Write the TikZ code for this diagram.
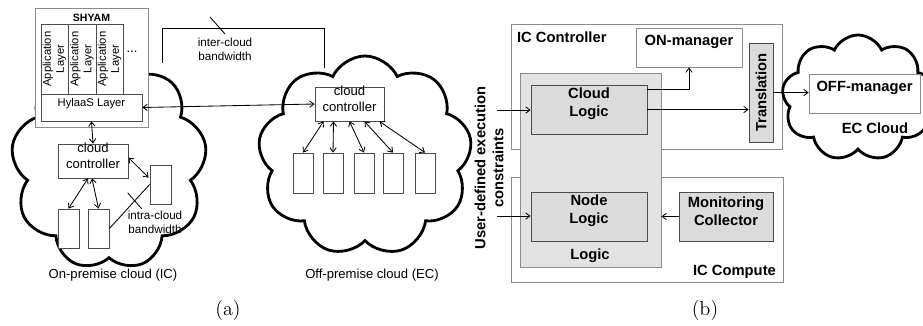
\documentclass[tikz,border=0pt]{standalone}
\usepackage{fontspec}
\newfontfamily\arialfont{Liberation Sans}
\usepackage{tikz}
\usetikzlibrary{positioning,arrows.meta,shapes.symbols,calc,fit}

\definecolor{edgegray}{gray}{0.55}
\definecolor{darkedge}{gray}{0.3}
\definecolor{logicgray}{gray}{0.89}
\definecolor{innergray}{gray}{0.86}

\begin{document}
\begin{tikzpicture}[
			x=0.025cm, y=-0.025cm,
			line width=0.6pt,
			>={Straight Barb[length=3pt,width=4.5pt]},
			font=\arialfont\fontsize{9.3}{11.4}\selectfont,
			cloudbody/.style={cloud, draw, line width=2pt, cloud puffs=#1, cloud puff arc=130, cloud ignores aspect, inner sep=0pt},
			outerbox/.style={draw=edgegray, fill=white, inner sep=0pt, align=center},
			layerbox/.style={draw=darkedge, fill=white, inner sep=0pt, align=center},
			logicbox/.style={draw=edgegray, fill=logicgray, inner sep=0pt},
			greybox/.style={draw=darkedge, fill=innergray, inner sep=0pt, align=center, btext},
			btext/.style={font=\arialfont\bfseries\fontsize{10.5}{12.8}\selectfont},
			smalltext/.style={font=\arialfont\fontsize{8.3}{9.8}\selectfont, align=center},
			subcap/.style={font=\rmfamily\fontsize{14.4}{16}\selectfont}
		]
		\useasboundingbox (0,0) rectangle (923,325);

		% Clouds
		\node[cloudbody=9, minimum width=4.9cm, minimum height=5.3cm] (iccloud) at (109,164) {};
		\node[cloudbody=9, minimum width=5.35cm, minimum height=5cm] (eccloud) at (365,156) {};

		% SHYAM stack
		\node[outerbox, fit={(35,8) (148,127)}] (shyam) {};
		\node[font=\arialfont\bfseries\fontsize{7.5}{9}\selectfont] (shyamname) at (91.5,18) {SHYAM};
		\foreach \i/\xa/\xb in {1/41/68,2/68/96,3/96/123}
			\node[layerbox, fit={(\xa,24) (\xb,94)},
				label={[rotate=90, align=center, font=\arialfont\fontsize{8}{9.2}\selectfont]center:Application\\Layer}] (app\i) {};
		\node (appdots) at (132,52) {...};
		\node[layerbox, fit={(41,94) (142,121)}, font=\arialfont\fontsize{8}{9}\selectfont] (hylaas) {HylaaS Layer};

		% On-premise cloud
		\node[layerbox, fit={(58,144) (128,178)}] (iccc) {cloud\\controller};
		\node[layerbox, fit={(58,209) (79,248)}] (icvm1) {};
		\node[layerbox, fit={(88,209) (109,248)}] (icvm2) {};
		\node[layerbox, fit={(150,165) (171,204)}] (icvm3) {};
		\node[smalltext] (intralbl) at (155,222) {intra-cloud\\bandwidth};
		\node (iclbl) at (113,275) {On-premise cloud (IC)};

		% Off-premise cloud
		\node[layerbox, fit={(315,87) (384,121)}] (eccc) {cloud\\controller};
		\foreach \i/\xa in {1/293,2/323,3/354,4/383,5/415}
			\node[layerbox, fit={(\xa,153) ({\xa+20},193)}] (ecvm\i) {};
		\node (eclbl) at (372,275) {Off-premise cloud (EC)};
		\node[smalltext] (interlbl) at (225,49) {inter-cloud\\bandwidth};

		% Arrows (a)
		\draw[<->] (hylaas.south) -- (iccc.north);
		\draw[<->] (hylaas.east) -- (eccc.west);
		\draw[<->] ($(iccc.south)+(-5,0)$) -- (icvm1.north);
		\draw[<->] ($(iccc.south)+(-1,0)$) -- (icvm2.north);
		\draw[<->] ($(iccc.north east)+(0,14)$) -- ($(icvm3.north west)+(-1,13)$);
		\foreach \i/\dx in {1/-26,2/-16,3/0,4/15,5/30}
			\draw[<->] ($(eccc.south)+(\dx,0)$) -- (ecvm\i.north);
		\draw (icvm2.east) -- (icvm3.west) coordinate[pos=0.63] (intratick);
		\draw ($(intratick)+(-7,-8)$) -- ($(intratick)+(7,8)$);
		\coordinate (interl) at (162,63);
		\coordinate (interr) at (324,68);
		\draw (interl) -- ++(0,-35) -| (interr);
		\draw (210,17) -- (225,34);

		% IC Controller / IC Compute
		\node[outerbox, fit={(511,24) (782,149)}] (icctrl) {};
		\node[outerbox, fit={(511,177) (783,282)}] (iccomp) {};
		\node[btext, anchor=west] (icctrlname) at (512,37) {IC Controller};
		\node[btext, anchor=east] (iccompname) at (781,272) {IC Compute};
		\node[outerbox, btext, fit={(636,28) (742,67)}] (onmgr) {ON-manager};
		\node[logicbox, fit={(520,73) (661,267)}] (logic) {};
		\node[btext] (logicname) at (590,256) {Logic};
		\node[greybox, fit={(531,85) (647,134)}] (cloudlogic) {Cloud\\Logic};
		\node[greybox, fit={(531,192) (647,241)}] (nodelogic) {Node\\Logic};
		\node[greybox, fit={(679,192) (773,241)}] (monitor) {Monitoring\\Collector};
		\node[greybox, fit={(749,43) (773,142)},
			label={[rotate=90, btext]center:Translation}] (translation) {};

		% EC Cloud
		\node[cloudbody=9, minimum width=3.8cm, minimum height=3.15cm] (ecloud) at (858,98) {};
		\node[outerbox, btext, fit={(809,74) (920,113)}] (offmgr) {OFF-manager};
		\node[btext] (ecname) at (875,128) {EC Cloud};

		% User constraints
		\node[btext, rotate=90, align=center] (udc) at (489,168) {User-defined execution\\constraints};
		\coordinate (udc1) at (497,110);
		\coordinate (udc2) at (497,216);

		% Arrows (b)
		\draw[->] (udc1) -- (udc1 -| cloudlogic.west);
		\draw[->] (udc2) -- (udc2 -| nodelogic.west);
		\draw[->] ($(cloudlogic.north east)+(0,5)$) -| (onmgr.south);
		\draw[->] (cloudlogic.east) -- (cloudlogic.east -| translation.west);
		\draw[->] (translation.east) -- (translation.east -| offmgr.west);
		\draw[->] (monitor.west) -- (monitor.west -| logic.east);

		% Captions
		\node[subcap] (capa) at (228,310) {(a)};
		\node[subcap] (capb) at (705,310) {(b)};
	\end{tikzpicture}
\end{document}
